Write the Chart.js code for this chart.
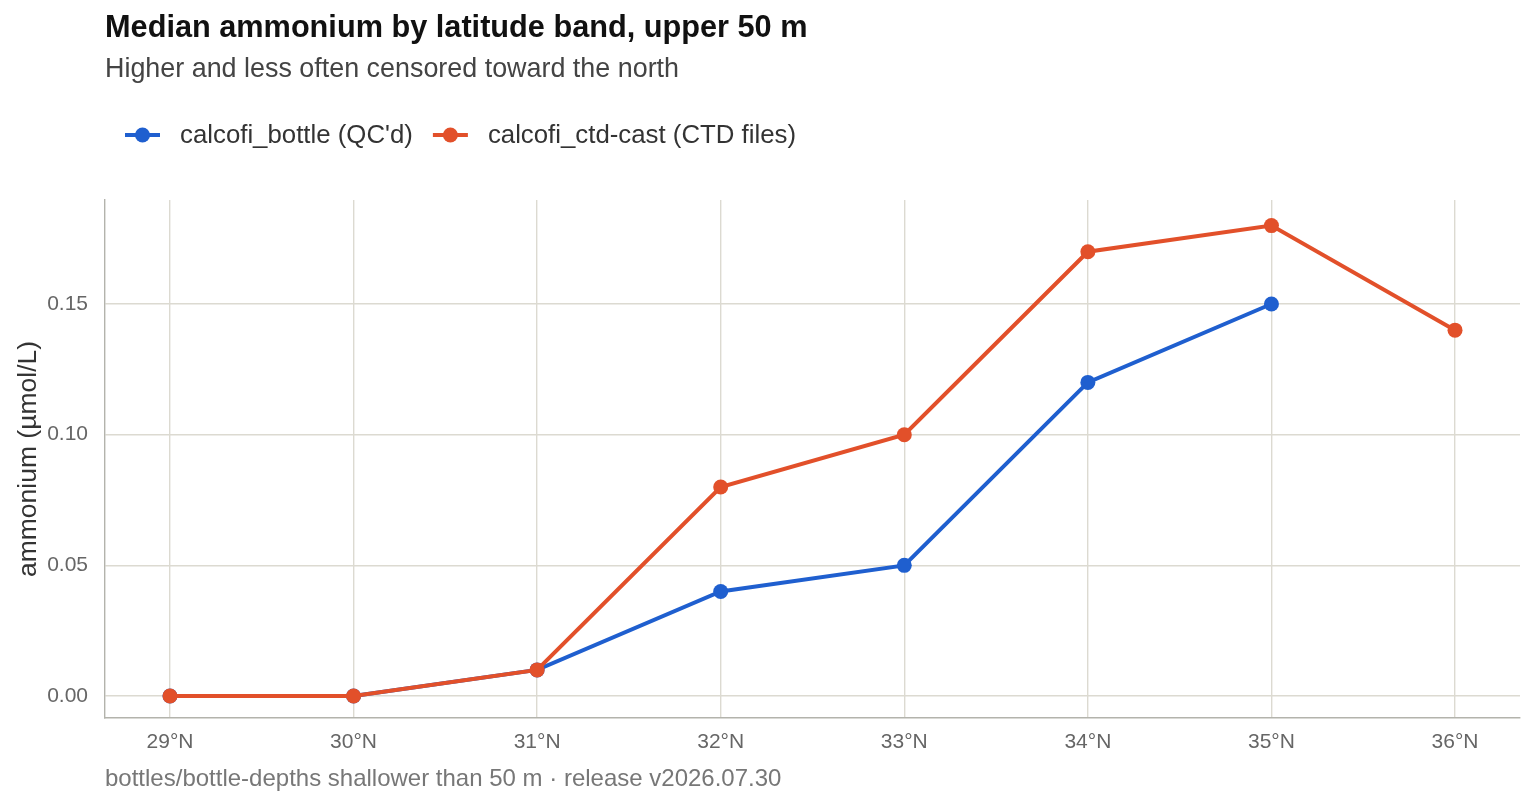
<!DOCTYPE html>
<html><head><meta charset="utf-8">
<style>html,body{margin:0;padding:0;background:#fff;}#wrap{width:1536px;height:806px;}</style>
<script src="https://cdn.jsdelivr.net/npm/chart.js@4.4.1/dist/chart.umd.min.js"></script>
</head><body><div id="wrap"><canvas id="c" width="1536" height="806"></canvas></div>
<script>
const latitudes = [29, 30, 31, 32, 33, 34, 35, 36];
const bottleValues = [0.00, 0.00, 0.01, 0.04, 0.05, 0.12, 0.15, null];
const ctdValues = [0.00, 0.00, 0.01, 0.08, 0.10, 0.17, 0.18, 0.14];
const yTicks = [0.00, 0.05, 0.10, 0.15];
const seriesNames = ["calcofi_bottle (QC'd)", "calcofi_ctd-cast (CTD files)"];
const titleText = "Median ammonium by latitude band, upper 50 m";
const subtitleText = "Higher and less often censored toward the north";
const captionText = "bottles/bottle-depths shallower than 50 m \u00b7 release v2026.07.30";
const yTitle = "ammonium (\u00b5mol/L)";

const BLUE = '#1f5fcf', ORANGE = '#e2502a';
const FONT = "'Liberation Sans', Arial, sans-serif";
const toPts = vals => latitudes.map((x, i) => ({x, y: vals[i]})).filter(p => p.y !== null);

const textPlugin = {
  id: 'texts',
  afterDraw(chart) {
    const ctx = chart.ctx, left = chart.chartArea.left;
    ctx.save();
    ctx.textBaseline = 'alphabetic';
    ctx.textAlign = 'left';
    ctx.fillStyle = '#111';
    ctx.font = "bold 30.7px " + FONT;
    ctx.fillText(titleText, left, 37);
    ctx.fillStyle = '#444';
    ctx.font = "26.9px " + FONT;
    ctx.fillText(subtitleText, left, 77);
    // legend
    ctx.font = "25.8px " + FONT;
    let x = 125; const y = 135;
    [BLUE, ORANGE].forEach((col, i) => {
      ctx.strokeStyle = col; ctx.lineWidth = 4;
      ctx.beginPath(); ctx.moveTo(x, y); ctx.lineTo(x + 35, y); ctx.stroke();
      ctx.fillStyle = col; ctx.beginPath(); ctx.arc(x + 17.5, y, 7.5, 0, Math.PI * 2); ctx.fill();
      ctx.fillStyle = '#333'; ctx.textBaseline = 'middle';
      ctx.fillText(seriesNames[i], x + 55, y + 1);
      x += 55 + ctx.measureText(seriesNames[i]).width + 20;
    });
    ctx.textBaseline = 'alphabetic';
    ctx.fillStyle = '#777';
    ctx.font = "24px " + FONT;
    ctx.fillText(captionText, left, 786);
    ctx.restore();
  }
};

new Chart(document.getElementById('c'), {
  type: 'line',
  data: {
    datasets: [
      {label: seriesNames[0], data: toPts(bottleValues), borderColor: BLUE, backgroundColor: BLUE, order: 1,
       borderWidth: 4, pointRadius: 7.5, pointHoverRadius: 7.5, pointBorderWidth: 0, tension: 0},
      {label: seriesNames[1], data: toPts(ctdValues), borderColor: ORANGE, backgroundColor: ORANGE, order: 0,
       borderWidth: 4, pointRadius: 7.5, pointHoverRadius: 7.5, pointBorderWidth: 0, tension: 0}
    ]
  },
  options: {
    responsive: false, animation: false, devicePixelRatio: 1,
    layout: {padding: {top: 200, right: 16, left: 0, bottom: 0}},
    plugins: {legend: {display: false}, tooltip: {enabled: false}, title: {display: false}},
    scales: {
      x: {
        type: 'linear', min: 28.646, max: 36.354,
        afterBuildTicks: s => { s.ticks = latitudes.map(v => ({value: v})); },
        afterFit: s => { s.height = 88; },
        ticks: {callback: v => v + '\u00b0N', color: '#666', font: {family: FONT, size: 21}, padding: 12, autoSkip: false, maxRotation: 0},
        grid: {color: '#dcdad1', lineWidth: 1.4, drawTicks: false},
        border: {color: '#b3b3ac', width: 1.4}
      },
      y: {
        min: -0.0084, max: 0.1898,
        afterBuildTicks: s => { s.ticks = yTicks.map(v => ({value: v})); },
        afterFit: s => { s.width = 105; },
        ticks: {callback: v => v.toFixed(2), color: '#666', font: {family: FONT, size: 21}, padding: 17},
        grid: {color: '#dcdad1', lineWidth: 1.4, drawTicks: false},
        border: {color: '#b3b3ac', width: 1.4},
        title: {display: true, text: yTitle, color: '#333', font: {family: FONT, size: 26.5}, padding: {top: 13, bottom: 0}}
      }
    }
  },
  plugins: [textPlugin]
});
</script></body></html>
